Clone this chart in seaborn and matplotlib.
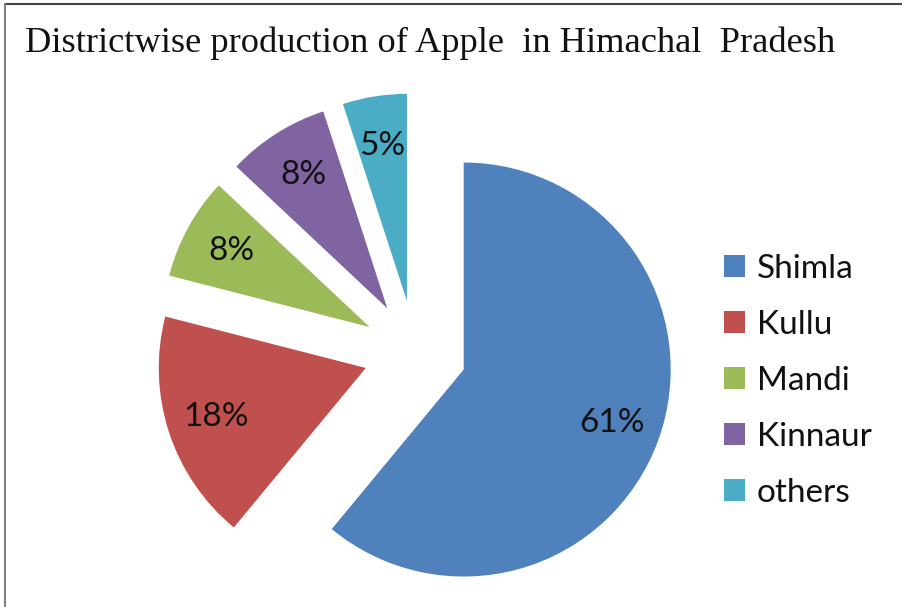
import matplotlib
matplotlib.use("Agg")
import matplotlib.pyplot as plt
from matplotlib.lines import Line2D
import seaborn as sns

districts = ["Shimla", "Kullu", "Mandi", "Kinnaur", "others"]
shares = [61, 18, 8, 8, 5]
colors = ["#4F81BD", "#C0504D", "#9BBB59", "#8064A2", "#4BACC6"]
title = "Districtwise production of Apple  in Himachal  Pradesh"

sns.set_style("white")
palette = sns.color_palette(colors)

W, H = 903, 607
fig = plt.figure(figsize=(W / 100, H / 100), dpi=100)
ax = fig.add_axes([0, 0, 1, 1])

cx, cy, R = 415, 352, 207
wedges, texts, autotexts = ax.pie(
    shares, colors=palette, startangle=90, counterclock=False,
    explode=[0.25] * len(shares), autopct="%1.0f%%", pctdistance=0.76,
    textprops=dict(fontsize=24, family="Lato", color="#111111"),
    wedgeprops=dict(linewidth=0),
)
ax.set_aspect("auto")
ax.set_xlim((0 - cx) / R, (W - cx) / R)
ax.set_ylim((cy - H) / R, cy / R)
ax.axis("off")

leg = fig.legend(
    wedges, districts, loc="center left", bbox_to_anchor=(724 / W, 1 - 381 / H),
    frameon=False, prop=dict(family="Lato", size=24),
    handlelength=0.63, handleheight=0.63, handletextpad=0.36, labelspacing=0.78,
    borderpad=0, borderaxespad=0,
)
for t in leg.get_texts():
    t.set_color("#111111")

fig.text(25 / W, 1 - 52 / H, title, family="Liberation Serif", fontsize=26.2,
         color="#111111", ha="left", va="baseline")

fig.add_artist(Line2D([5 / W, 1], [1 - 4 / H, 1 - 4 / H], color="#444444", lw=1.5))
fig.add_artist(Line2D([5 / W, 5 / W], [0, 1 - 4 / H], color="#808080", lw=1.5))

fig.savefig("out.png", dpi=100, facecolor="white")
